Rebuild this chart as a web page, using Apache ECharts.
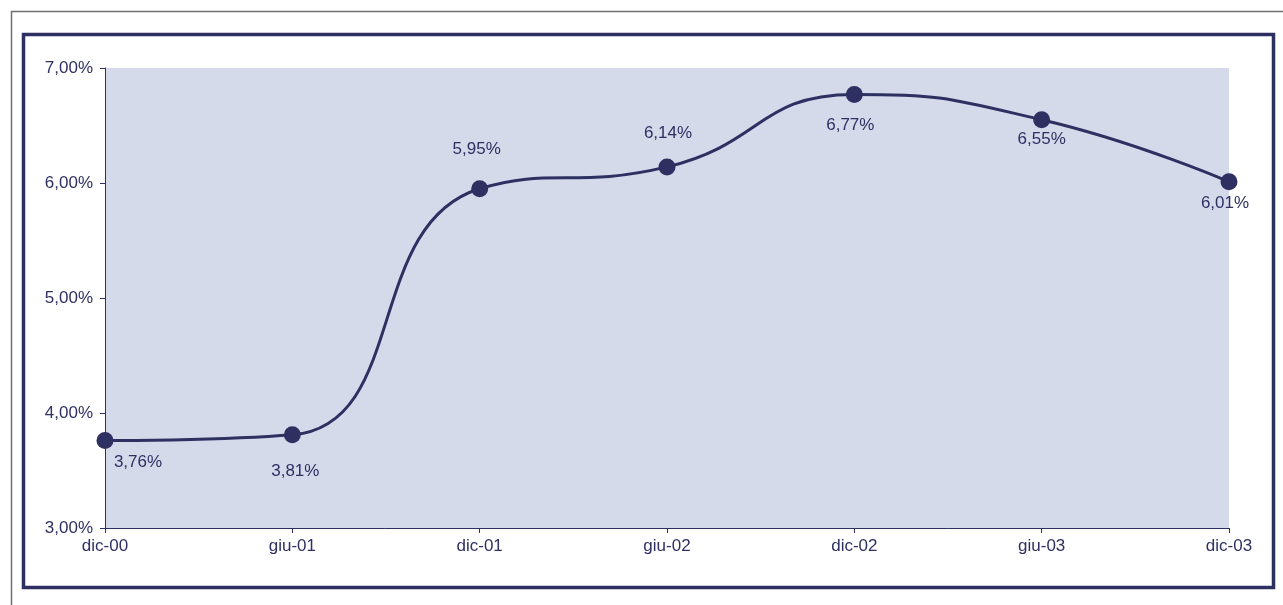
<!DOCTYPE html>
<html>
<head>
<meta charset="utf-8">
<script src="https://cdn.jsdelivr.net/npm/echarts@6/dist/echarts.min.js"></script>
<style>
  html, body { margin: 0; padding: 0; background: #fff; }
  #chart { width: 1283px; height: 605px; }
</style>
</head>
<body>
<div id="chart"></div>
<script>
var periods = ['dic-00', 'giu-01', 'dic-01', 'giu-02', 'dic-02', 'giu-03', 'dic-03'];
var rates = [3.76, 3.81, 5.95, 6.14, 6.77, 6.55, 6.01];
// value labels were placed by hand in the original, offsets from point centre
var labelShift = [[33, 22], [3, 36], [-3, -39], [1, -34], [-4, 31], [0, 20], [-4, 21]];

var navy = '#2e3062';
function pct(v) { return v.toFixed(2).replace('.', ',') + '%'; }

var chart = echarts.init(document.getElementById('chart'));
chart.setOption({
  animation: false,
  textStyle: { fontFamily: 'Liberation Sans, Arial, sans-serif' },
  graphic: [
    // thin grey outer border
    { type: 'rect', shape: { x: 11.5, y: 11.5, width: 1290, height: 620 },
      style: { fill: 'none', stroke: '#6f6f6f', lineWidth: 1.5 }, silent: true },
    // navy frame
    { type: 'rect', shape: { x: 23.5, y: 34.5, width: 1250, height: 553 },
      style: { fill: 'none', stroke: navy, lineWidth: 3.5 }, silent: true }
  ],
  grid: {
    left: 105, right: 1283 - 1229, top: 68, bottom: 605 - 528,
    show: true, backgroundColor: '#d5daea', borderWidth: 0
  },
  xAxis: {
    type: 'category',
    data: periods,
    boundaryGap: false,
    axisLine: { lineStyle: { color: navy, width: 1 } },
    axisTick: { show: true, length: 5, lineStyle: { color: navy } },
    axisLabel: { color: navy, fontSize: 17, margin: 10 },
    splitLine: { show: false }
  },
  yAxis: {
    type: 'value',
    min: 3, max: 7, interval: 1,
    axisLine: { show: true, lineStyle: { color: navy, width: 1 } },
    axisTick: { show: true, length: 5, lineStyle: { color: navy } },
    axisLabel: { color: navy, fontSize: 17, margin: 12, formatter: function (v) { return pct(v); } },
    splitLine: { show: false }
  },
  series: [{
    type: 'line',
    data: rates.map(function (v, i) {
      return { value: v, label: { offset: labelShift[i] } };
    }),
    smooth: 0.5,
    symbol: 'circle',
    symbolSize: 17,
    lineStyle: { color: navy, width: 3 },
    itemStyle: { color: navy },
    label: {
      show: true, position: 'inside', color: navy, fontSize: 17,
      formatter: function (p) { return pct(p.value); }
    }
  }]
});
</script>
</body>
</html>
